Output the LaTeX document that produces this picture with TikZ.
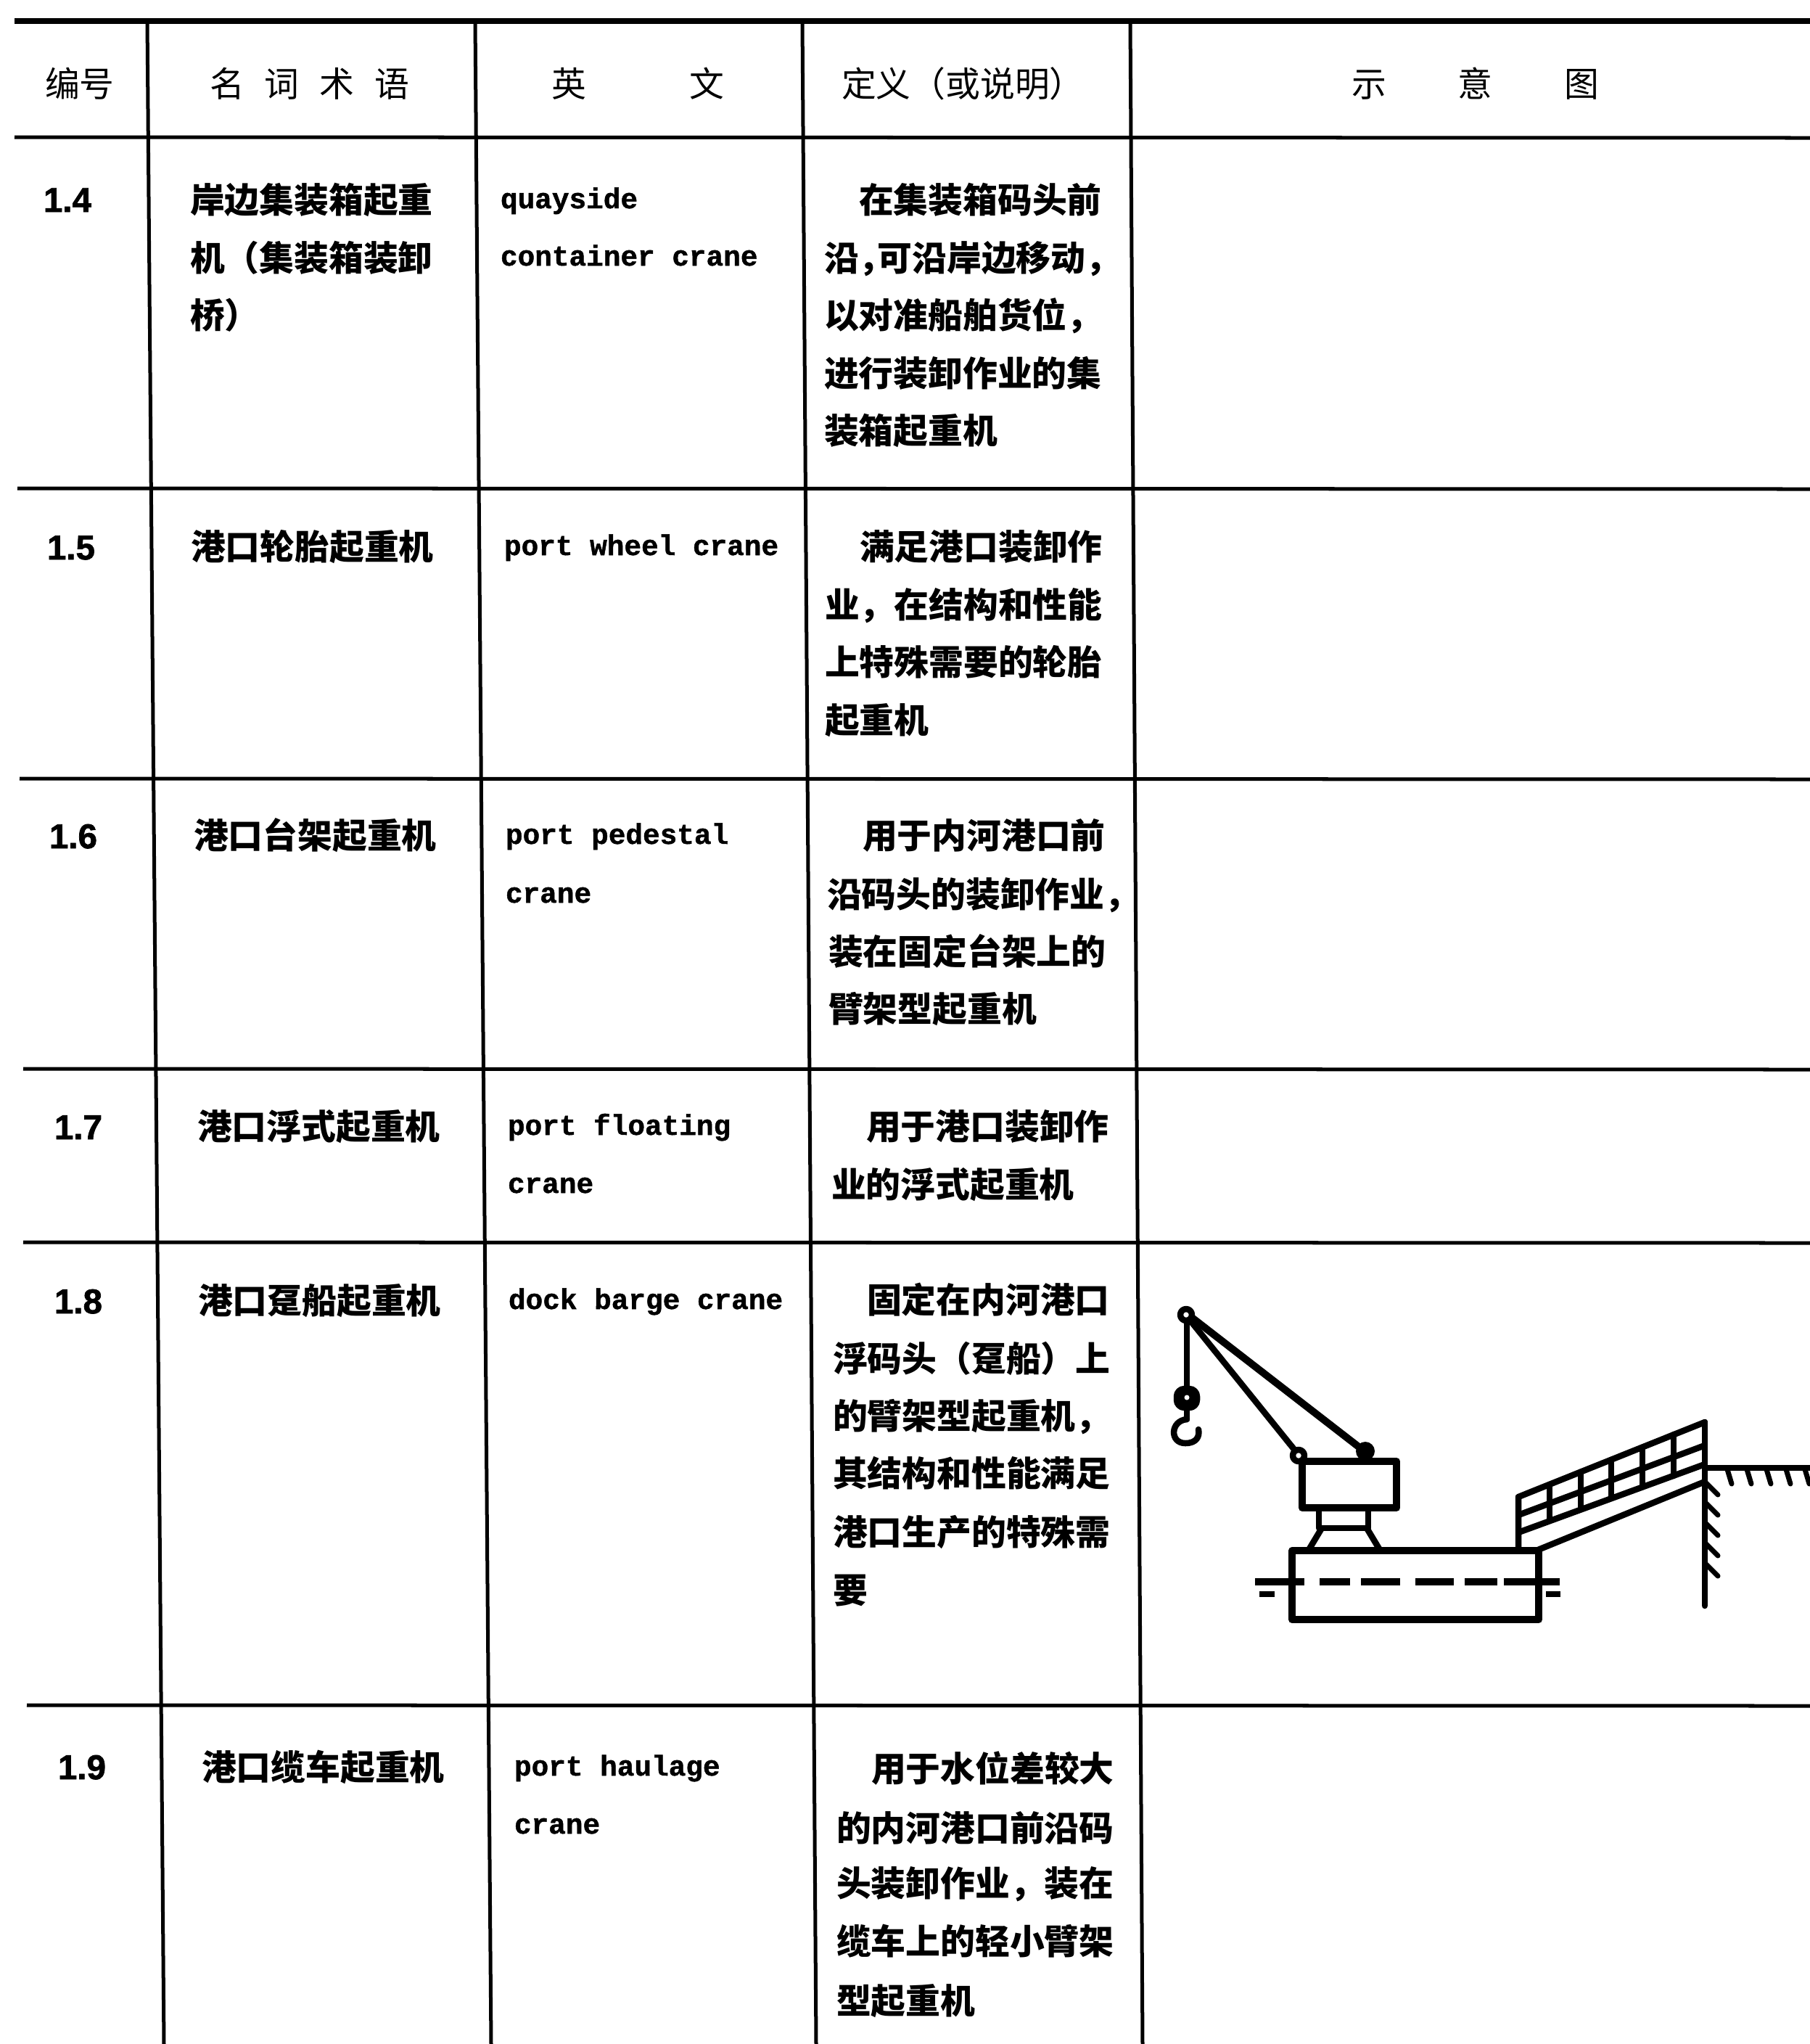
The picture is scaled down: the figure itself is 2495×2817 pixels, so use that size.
\documentclass[tikz,border=0pt]{standalone}
\usepackage{fontspec}
\usepackage{graphicx}
\newfontfamily\cjk{Noto Sans CJK SC}
\newfontfamily\enf{Liberation Mono}[BoldFeatures={FakeBold=1.2}]
\newfontfamily\numf{Liberation Sans}[BoldFeatures={FakeBold=1.6}]
\tikzset{
  tl/.style={line width=0.05cm},
  cn/.style={anchor=base west, inner sep=0pt, outer sep=0pt, font=\cjk\bfseries\fontsize{13.6pt}{16pt}\selectfont},
  hd/.style={anchor=base west, inner sep=0pt, outer sep=0pt, font=\cjk\fontsize{13.6pt}{16pt}\selectfont},
  en/.style={anchor=base west, inner sep=0pt, outer sep=0pt, font=\enf\bfseries\fontsize{11.2pt}{13pt}\selectfont},
  nm/.style={anchor=base west, inner sep=0pt, outer sep=0pt, font=\numf\bfseries\fontsize{13.5pt}{16pt}\selectfont},
  cr/.style={line width=0.085cm, line cap=round, line join=round},
  crt/.style={line width=0.1cm, line cap=round, line join=round},
  hatch/.style={line width=0.07cm, line cap=round},
}
\begin{document}
\begin{tikzpicture}[x=0.01cm, y=-0.01cm]
\useasboundingbox (0,0) rectangle (2495,2817);
% ---------- table rules ----------
\draw[line width=0.08cm] (20,29) -- (2495,29);
\draw[tl] (20,189) -- (2495,190);
\draw[tl] (24,673) -- (2495,674);
\draw[tl] (27,1073) -- (2495,1074);
\draw[tl] (32,1473) -- (2495,1474);
\draw[tl] (32,1712) -- (2495,1713);
\draw[tl] (37,2350) -- (2495,2351);
\draw[tl] (203,29) -- (226,2817);
\draw[tl] (655,29) -- (677,2817);
\draw[tl] (1106,29) -- (1125,2817);
\draw[tl] (1558,29) -- (1575,2817);
% ---------- header ----------
\node[hd] (hbh) at (62,133) {编号};
\node[hd] (hmc) at (289,133) {名\hspace{0.28cm}词\hspace{0.28cm}术\hspace{0.28cm}语};
\node[hd] (hyw) at (760,133) {英\hspace{1.43cm}文};
\node[hd] (hdy) at (1160,133) {定义（或说明）};
\node[hd] (hsy) at (1863,133) {示\hspace{0.99cm}意\hspace{0.99cm}图};
% ---------- row 1.4 ----------
\node[nm] (n4) at (60,292) {1.4};
\node[cn] (t4a) at (262,293) {岸边集装箱起重};
\node[cn] (t4b) at (262,373) {机（集装箱装卸};
\node[cn] (t4c) at (262,452) {桥）};
\node[en] (e4a) at (690,287) {quayside};
\node[en] (e4b) at (690,366) {container crane};
\node[cn] (d4a) at (1184,293) {在集装箱码头前};
\node[cn] (d4b) at (1136,373) {沿，\kern-0.22cm 可沿岸边移动，};
\node[cn] (d4c) at (1136,452) {以对准船舶货位，};
\node[cn] (d4d) at (1136,532) {进行装卸作业的集};
\node[cn] (d4e) at (1136,611) {装箱起重机};
% ---------- row 1.5 ----------
\node[nm] (n5) at (65,771) {1.5};
\node[cn] (t5a) at (263,771) {港口轮胎起重机};
\node[en] (e5a) at (695,765) {port wheel crane};
\node[cn] (d5a) at (1185,771) {满足港口装卸作};
\node[cn] (d5b) at (1137,851) {业，在结构和性能};
\node[cn] (d5c) at (1137,930) {上特殊需要的轮胎};
\node[cn] (d5d) at (1137,1010) {起重机};
% ---------- row 1.6 ----------
\node[nm] (n6) at (68,1169) {1.6};
\node[cn] (t6a) at (267,1169) {港口台架起重机};
\node[en] (e6a) at (697,1163) {port pedestal};
\node[en] (e6b) at (697,1244) {crane};
\node[cn] (d6a) at (1189,1169) {用于内河港口前};
\node[cn] (d6b) at (1140,1250) {沿码头的装卸作业，};
\node[cn] (d6c) at (1142,1329) {装在固定台架上的};
\node[cn] (d6d) at (1142,1408) {臂架型起重机};
% ---------- row 1.7 ----------
\node[nm] (n7) at (75,1570) {1.7};
\node[cn] (t7a) at (272,1570) {港口浮式起重机};
\node[en] (e7a) at (700,1564) {port floating};
\node[en] (e7b) at (700,1644) {crane};
\node[cn] (d7a) at (1194,1570) {用于港口装卸作};
\node[cn] (d7b) at (1146,1650) {业的浮式起重机};
% ---------- row 1.8 ----------
\node[nm] (n8) at (75,1810) {1.8};
\node[cn] (t8a) at (273,1810) {港口趸船起重机};
\node[en] (e8a) at (701,1804) {dock barge crane};
\node[cn] (d8a) at (1195,1809) {固定在内河港口};
\node[cn] (d8b) at (1148,1890) {浮码头（趸船）上};
\node[cn] (d8c) at (1148,1969) {的臂架型起重机，};
\node[cn] (d8d) at (1148,2048) {其结构和性能满足};
\node[cn] (d8e) at (1148,2129) {港口生产的特殊需};
\node[cn] (d8f) at (1148,2209) {要};
% ---------- row 1.9 ----------
\node[nm] (n9) at (80,2452) {1.9};
\node[cn] (t9a) at (278,2453) {港口缆车起重机};
\node[en] (e9a) at (709,2447) {port haulage};
\node[en] (e9b) at (709,2527) {crane};
\node[cn] (d9a) at (1201,2455) {用于水位差较大};
\node[cn] (d9b) at (1153,2537) {的内河港口前沿码};
\node[cn] (d9c) at (1153,2613) {头装卸作业，装在};
\node[cn] (d9d) at (1153,2693) {缆车上的轻小臂架};
\node[cn] (d9e) at (1153,2775) {型起重机};
% ---------- sketch for 1.8 ----------
% boom
\draw[cr] (1636,1814) -- (1790,2005);
\draw[crt] (1638,1812) -- (1882,2001);
% rope, hook block and hook
\draw[cr] (1636,1821) -- (1636,1914);
\draw[cr, fill=black, rounded corners=3] (1622,1914) rectangle (1650,1940);
\fill[white] (1636,1926) circle (3.5);
\draw[cr] (1636,1940) -- (1636,1956);
\draw[cr] (1636,1956) .. controls (1613,1958) and (1612,1989) .. (1634,1989) .. controls (1649,1989) and (1654,1980) .. (1652,1970);
% pulley at boom head
\draw[cr, fill=white] (1635,1812) circle (8);
% machine house
\draw[crt] (1795,2014) rectangle (1925,2078);
\draw[cr, fill=white] (1790,2006) circle (8);
\fill (1882,2000) circle (13);
% neck and pedestal
\draw[cr] (1818,2078) rectangle (1886,2106);
\draw[cr] (1822,2106) -- (1804,2136);
\draw[cr] (1884,2106) -- (1902,2136);
% pontoon
\draw[crt] (1781,2137) rectangle (2121,2232);
% water line
\foreach \a/\b in {1730/1798, 1819/1861, 1876/1930, 1951/2004, 2019/2064, 2073/2150}
  \draw[line width=0.1cm] (\a,2180) -- (\b,2180);
\draw[line width=0.08cm] (1736,2197) -- (1757,2197);
\draw[line width=0.08cm] (2131,2197) -- (2151,2197);
% gangway
\draw[cr] (2093,2136) -- (2093,2063) -- (2350,1960);
\draw[cr] (2093,2088) -- (2350,1992);
\draw[cr] (2093,2112) -- (2350,2018);
\draw[cr] (2120,2136) -- (2350,2042);
\foreach \px/\ta/\tb in {2136/2046/2096, 2179/2028.5/2080.5, 2221/2011.7/2065, 2264/1994.5/2049.5, 2307/1977/2034}
  \draw[cr] (\px,\ta) -- (\px,\tb);
% shore
\draw[cr] (2350,1960) -- (2350,2213);
\draw[cr] (2350,2023) -- (2495,2023);
\foreach \x in {2381,2408,2435,2462,2488}
  \draw[hatch] (\x,2025) -- (\x+6,2045);
\foreach \y in {2044,2072,2100,2128,2156}
  \draw[hatch] (2352,\y) -- (2368,\y+16);
\end{tikzpicture}
\end{document}
